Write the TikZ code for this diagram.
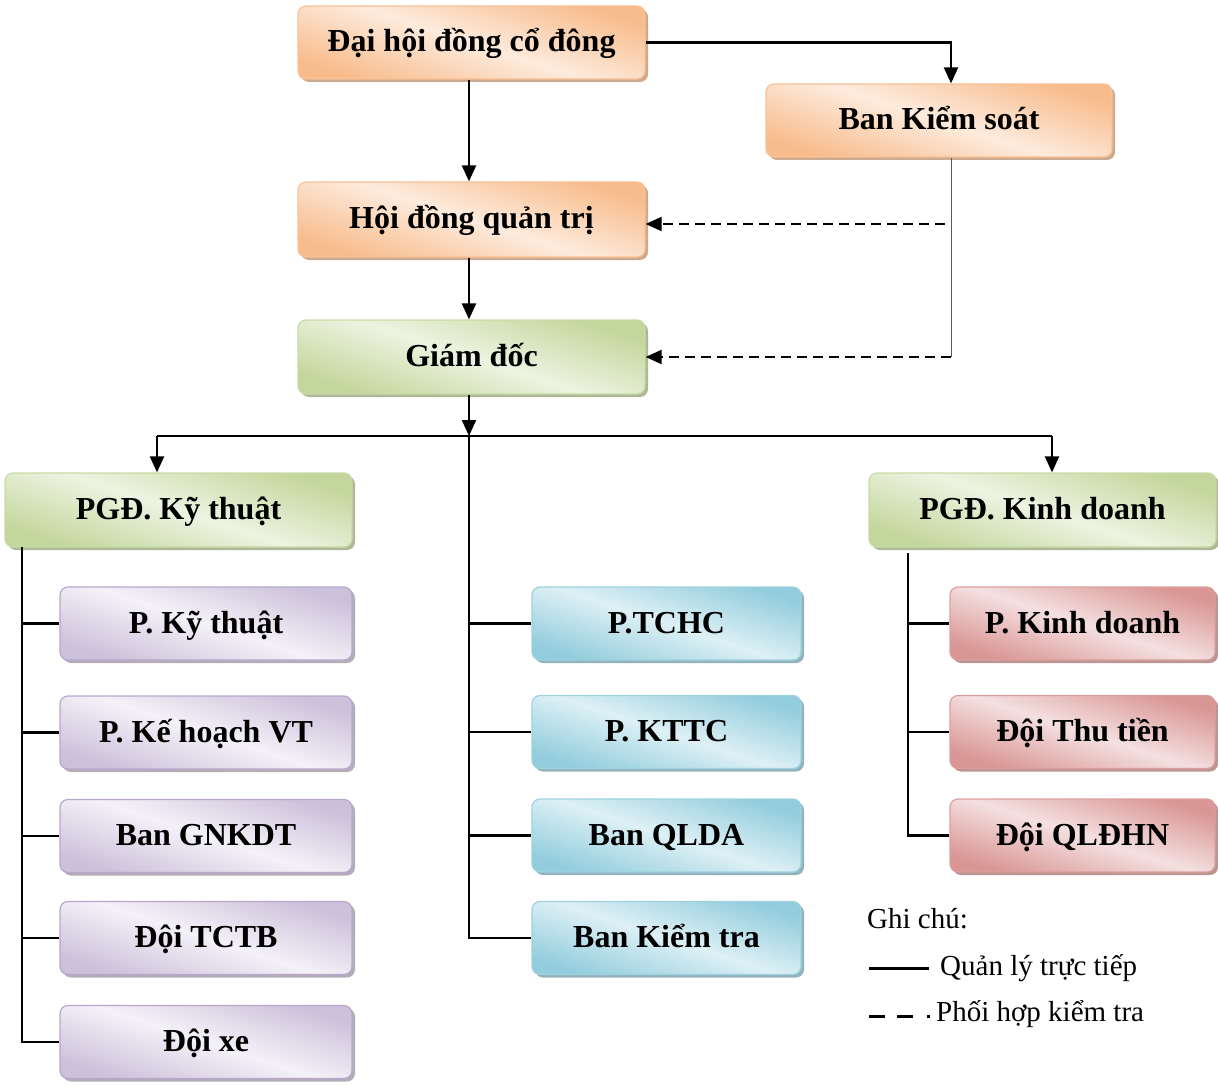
\documentclass[tikz,border=0pt]{standalone}
\usepackage{fontspec}
\setmainfont{Liberation Serif}
\usetikzlibrary{arrows.meta,shadows}
\definecolor{orD}{HTML}{F8BC8C}\definecolor{orL}{HTML}{FDEBDD}\definecolor{orB}{HTML}{F9C196}
\definecolor{grD}{HTML}{C3D69B}\definecolor{grL}{HTML}{EDF3E1}\definecolor{grB}{HTML}{C9DAA6}
\definecolor{puD}{HTML}{CCC1DA}\definecolor{puL}{HTML}{F4F1F8}\definecolor{puB}{HTML}{B7A8CB}
\definecolor{blD}{HTML}{93CDDD}\definecolor{blL}{HTML}{DDF0F5}\definecolor{blB}{HTML}{9ED2E0}
\definecolor{reD}{HTML}{D99694}\definecolor{reL}{HTML}{F4E0E0}\definecolor{reB}{HTML}{DBA09E}
\begin{document}
\begin{tikzpicture}[x=1pt,y=-1pt,
  box/.style n args={3}{draw=#3, line width=1.2pt, rounded corners=8pt,
    top color=#1, bottom color=#1, middle color=#2, shading angle=-18,
    drop shadow={shadow xshift=3pt,shadow yshift=-3pt,fill=#1!75!black,opacity=0.75},
    minimum height=73pt, inner sep=0pt, text height=26pt, text depth=7pt,
    font=\fontsize{32}{36}\selectfont\bfseries, text=black},
  orbox/.style={box={orD}{orL}{orB}, minimum width=347pt},
  grbox/.style={box={grD}{grL}{grB}, minimum width=347pt},
  pubox/.style={box={puD}{puL}{puB}, minimum width=292pt},
  blbox/.style={box={blD}{blL}{blB}, minimum width=269pt},
  rebox/.style={box={reD}{reL}{reB}, minimum width=265pt},
  ln/.style={line width=2.2pt, black},
  arr/.style={ln, -{Triangle[length=16pt,width=14pt]}},
  darr/.style={line width=2pt, dash pattern=on 10pt off 6pt, -{Triangle[length=16pt,width=14pt]}},
  legtxt/.style={anchor=base west, inner sep=0pt, font=\fontsize{29}{32}\selectfont}
]
\useasboundingbox (0,0) rectangle (1218,1086);

% top boxes
\node[orbox] (dh) at (471.5,42.5) {Đại hội đồng cổ đông};
\node[orbox, minimum width=346pt] (bks) at (939,120.5) {Ban Kiểm soát};
\node[orbox, minimum height=75pt] (hdqt) at (471.5,219.5) {Hội đồng quản trị};
\node[grbox, minimum height=74pt] (gd) at (471.5,357) {Giám đốc};
\node[grbox, minimum height=74pt] (pkt) at (178.5,510) {PGĐ. Kỹ thuật};
\node[grbox, minimum height=74pt] (pkd) at (1042.5,510) {PGĐ. Kinh doanh};

% left column
\node[pubox] (l1) at (206,623.5) {P. Kỹ thuật};
\node[pubox] (l2) at (206,732.5) {P. Kế hoạch VT};
\node[pubox] (l3) at (206,836) {Ban GNKDT};
\node[pubox] (l4) at (206,938) {Đội TCTB};
\node[pubox] (l5) at (206,1042) {Đội xe};

% middle column
\node[blbox] (m1) at (666.5,623.5) {P.TCHC};
\node[blbox] (m2) at (666.5,732) {P. KTTC};
\node[blbox] (m3) at (666.5,835.5) {Ban QLDA};
\node[blbox] (m4) at (666.5,938) {Ban Kiểm tra};

% right column
\node[rebox] (r1) at (1082.5,623.5) {P. Kinh doanh};
\node[rebox] (r2) at (1082.5,732) {Đội Thu tiền};
\node[rebox] (r3) at (1082.5,835.5) {Đội QLĐHN};

% top connectors
\draw[arr] (dh.east) -| ([xshift=12pt]bks.north);
\draw[arr] ([xshift=-2.5pt]dh.south) -- ([xshift=-2.5pt]hdqt.north);
\draw[arr] ([xshift=-2.5pt]hdqt.south) -- ([xshift=-2.5pt]gd.north);

% control (dashed)
\coordinate (ksb) at ([xshift=12pt]bks.south);
\coordinate (k1) at (951,224);
\coordinate (k2) at (951,357);
\draw[line width=1pt, black!65] (ksb) -- (k2);
\draw[darr] ([xshift=-6pt]k1) -- (k1 -| hdqt.east);
\draw[darr] (k2) -- (k2 -| gd.east);

% director to bus
\coordinate (bus) at (469,436);
\coordinate (busL) at (157,436);
\coordinate (busR) at (1052,436);
\draw[arr] ([xshift=-2.5pt]gd.south) -- (bus);
\draw[ln] (busL) -- (busR);
\draw[arr] (busL) -- (busL |- pkt.north);
\draw[arr] (busR) -- (busR |- pkd.north);

% middle spine
\draw[ln] (bus) -- (bus |- m4.west) -- (m4.west);
\foreach \n in {m1,m2,m3} \draw[ln] (bus |- \n.west) -- (\n.west);

% left spine
\coordinate (lt) at (22,547);
\draw[ln] (lt) -- (lt |- l5.west) -- (l5.west);
\foreach \n in {l1,l2,l3,l4} \draw[ln] (lt |- \n.west) -- (\n.west);

% right spine
\coordinate (rt) at (908,553);
\draw[ln] (rt) -- (rt |- r3.west) -- (r3.west);
\foreach \n in {r1,r2} \draw[ln] (rt |- \n.west) -- (\n.west);

% legend
\node[legtxt] (g0) at (867,928) {Ghi chú:};
\coordinate (s1) at (869,968);
\coordinate (s2) at (929,968);
\draw[line width=3pt] (s1) -- (s2);
\node[legtxt] (g1) at (940,975) {Quản lý trực tiếp};
\coordinate (d1) at (869,1016);
\coordinate (d2) at (930,1016);
\draw[line width=3pt, dash pattern=on 16pt off 12pt on 16pt off 14pt on 3pt off 20pt] (d1) -- (d2);
\node[legtxt] (g2) at (936,1021) {Phối hợp kiểm tra};
\end{tikzpicture}
\end{document}
